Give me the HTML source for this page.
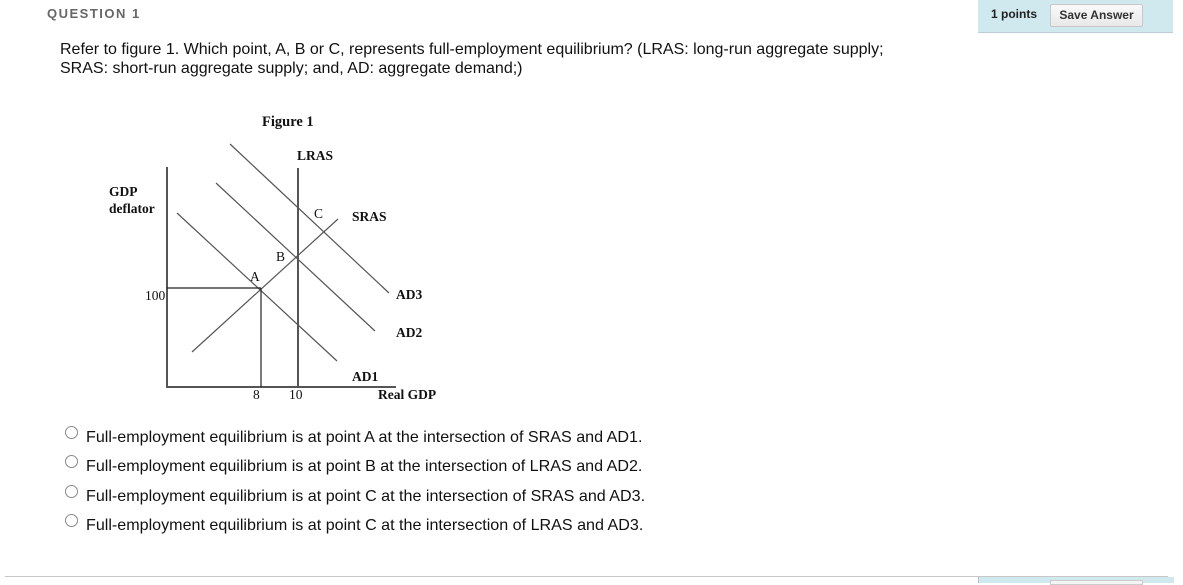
<!DOCTYPE html>
<html><head><meta charset="utf-8"><style>
body{margin:0;width:1183px;height:583px;background:#fff;position:relative;overflow:hidden;font-family:"Liberation Sans",Arial,sans-serif;}
.a{position:absolute;white-space:nowrap;}
.q{font-size:16px;color:#111;}
.o{font-size:16.1px;color:#111;}
.r{position:absolute;width:11px;height:11px;border:1px solid #888;border-radius:50%;background:#fff;}
</style></head><body>
<div class="a" style="left:978px;top:0;width:195px;height:32px;background:#cfe9ee;border-bottom:1px solid #bcd;"></div>
<div class="a" style="left:991px;top:7px;font-size:12px;font-weight:bold;color:#222;">1 points</div>
<div class="a" style="left:1050px;top:4px;width:91px;height:21px;background:linear-gradient(#fafafa,#e8e8e8);border:1px solid #c8c8c8;border-radius:2px;font-size:12px;font-weight:bold;color:#333;text-align:center;line-height:21px;">Save Answer</div>
<div class="a" style="left:47px;top:6px;font-size:13px;font-weight:bold;color:#666;letter-spacing:1.5px;">QUESTION 1</div>
<div class="a q" style="left:60px;top:41px;">Refer to figure 1. Which point, A, B or C, represents full-employment equilibrium? (LRAS: long-run aggregate supply;</div>
<div class="a q" style="left:60px;top:60px;">SRAS: short-run aggregate supply; and, AD: aggregate demand;)</div>
<svg class="a" style="left:0;top:0" width="1183" height="583">
<g stroke="#555" stroke-width="1.2" fill="none">
<line x1="230" y1="144" x2="389" y2="293"/>
<line x1="216" y1="183" x2="375" y2="331"/>
<line x1="177" y1="213" x2="337" y2="361"/>
<line x1="192" y1="352" x2="338" y2="219"/>
</g>
<g stroke="#555" stroke-width="2" fill="none">
<line x1="167" y1="167" x2="167" y2="388"/>
<line x1="166" y1="387" x2="396" y2="387"/>
<line x1="298" y1="168" x2="298" y2="387"/>
</g>
<g stroke="#222" stroke-width="1.2" fill="none">
<line x1="167" y1="288" x2="261" y2="288"/>
<line x1="261" y1="288" x2="261" y2="387"/>
</g>
<g font-family="Liberation Serif,serif" font-size="13.5" fill="#111">
<text x="262" y="126" font-weight="bold" font-size="14.5">Figure 1</text>
<text x="297" y="160" font-weight="bold">LRAS</text>
<text x="109" y="196" font-weight="bold">GDP</text>
<text x="109" y="213" font-weight="bold">deflator</text>
<text x="314" y="218">C</text>
<text x="352" y="221" font-weight="bold">SRAS</text>
<text x="276" y="261">B</text>
<text x="250" y="281">A</text>
<text x="145" y="300">100</text>
<text x="396" y="299" font-weight="bold">AD3</text>
<text x="396" y="337" font-weight="bold">AD2</text>
<text x="352" y="381" font-weight="bold">AD1</text>
<text x="253" y="399">8</text>
<text x="289" y="399">10</text>
<text x="378" y="399" font-weight="bold">Real GDP</text>
</g>
</svg>
<div class="r" style="left:65px;top:426px;"></div>
<div class="a o" style="left:86px;top:428px;">Full-employment equilibrium is at point A at the intersection of SRAS and AD1.</div>
<div class="r" style="left:65px;top:455px;"></div>
<div class="a o" style="left:86px;top:457px;">Full-employment equilibrium is at point B at the intersection of LRAS and AD2.</div>
<div class="r" style="left:65px;top:485px;"></div>
<div class="a o" style="left:86px;top:487px;">Full-employment equilibrium is at point C at the intersection of SRAS and AD3.</div>
<div class="r" style="left:65px;top:514px;"></div>
<div class="a o" style="left:86px;top:516px;">Full-employment equilibrium is at point C at the intersection of LRAS and AD3.</div>
<div class="a" style="left:5px;top:576px;width:1163px;height:1px;background:#c8c8c8;"></div>
<div class="a" style="left:978px;top:577px;width:195px;height:6px;background:#cfe9ee;border-left:1px solid #bbb;"></div>
<div class="a" style="left:1050px;top:580px;width:91px;height:3px;background:#f4f4f4;border:1px solid #ccc;"></div>
</body></html>
